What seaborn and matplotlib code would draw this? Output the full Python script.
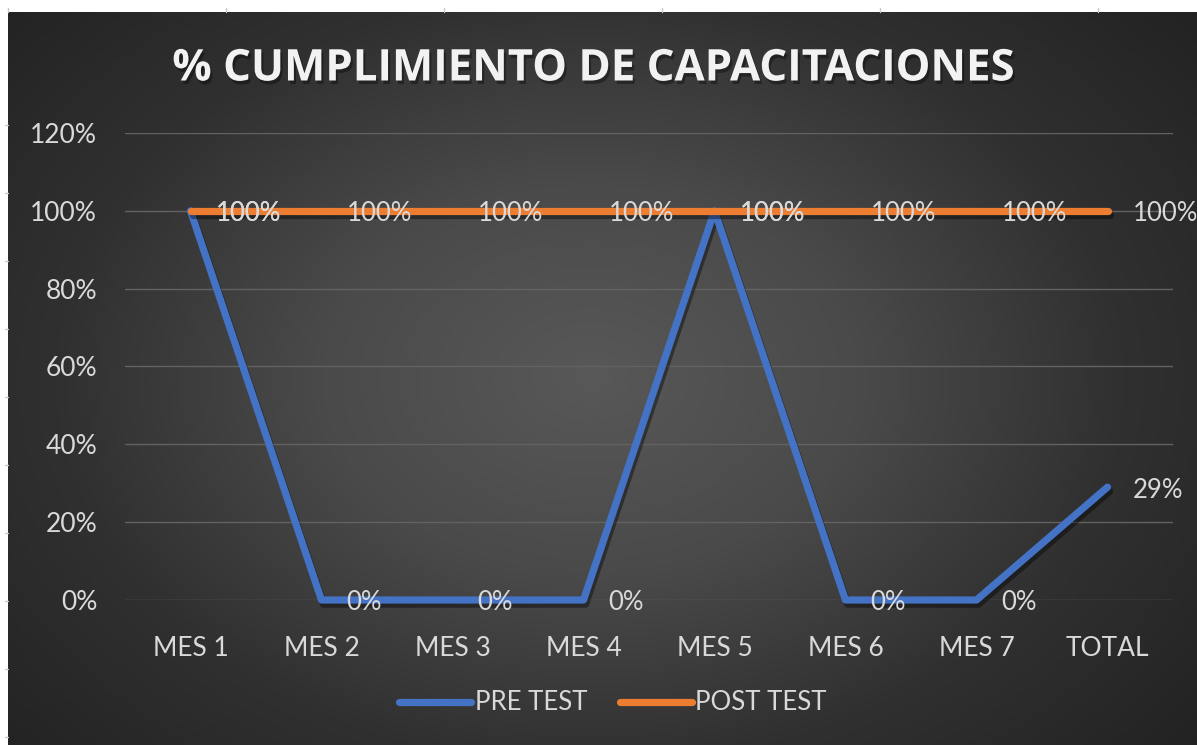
import numpy as np
import pandas as pd
import matplotlib
matplotlib.use("Agg")
import matplotlib.pyplot as plt
import matplotlib.patheffects as pe
from matplotlib.colors import LinearSegmentedColormap
from matplotlib.lines import Line2D
import seaborn as sns

# datos
meses = ["MES 1", "MES 2", "MES 3", "MES 4", "MES 5", "MES 6", "MES 7", "TOTAL"]
pre_test = [1.00, 0.00, 0.00, 0.00, 1.00, 0.00, 0.00, 0.29]
post_test = [1.00, 1.00, 1.00, 1.00, 1.00, 1.00, 1.00, 1.00]
y_ticks = [0.0, 0.2, 0.4, 0.6, 0.8, 1.0, 1.2]
series = ["PRE TEST", "POST TEST"]
colores = {"PRE TEST": "#4472C4", "POST TEST": "#ED7D31"}

df = pd.DataFrame({
    "mes": meses * 2,
    "valor": pre_test + post_test,
    "serie": [series[0]] * len(meses) + [series[1]] * len(meses),
})

sns.set_theme(style="dark")
plt.rcParams["font.family"] = ["Lato", "DejaVu Sans"]
txt_color = "#D9D9D9"

W, H = 1197, 745
fig = plt.figure(figsize=(W / 100, H / 100), dpi=100)
fig.patch.set_facecolor("white")

# fondo con degradado radial tipo Excel
bg = fig.add_axes([8 / W, 0, 1 - 8 / W, 1 - 12 / H])
yy, xx = np.mgrid[-1:1:300j, -1:1:500j]
r = np.sqrt((xx + 0.02) ** 2 + (yy * 0.85) ** 2)
cmap = LinearSegmentedColormap.from_list("bg", ["#585858", "#4a4a4a", "#303030", "#222222"])
bg.imshow(r, cmap=cmap, vmin=0, vmax=1.35, aspect="auto", interpolation="bilinear")
bg.axis("off")

# marcas de la hoja de calculo en los bordes
for xm in np.arange(8, W, 218):
    fig.add_artist(Line2D([xm / W, xm / W], [1 - 12 / H, 1 - 8 / H], color="#c8c8c8", lw=1))
for ym in np.arange(125, H, 68):
    fig.add_artist(Line2D([5 / W, 8 / W], [1 - ym / H, 1 - ym / H], color="#c8c8c8", lw=1))

ax = fig.add_axes([125 / W, (H - 600) / H, (1173 - 125) / W, (600 - 133) / H])
ax.set_facecolor("none")

sns.lineplot(data=df, x="mes", y="valor", hue="serie", palette=colores,
             hue_order=series, sort=False, lw=5.2, ax=ax, legend=False)

for line in ax.lines:
    line.set_solid_capstyle("round")
    line.set_solid_joinstyle("round")
    line.set_clip_on(False)
    line.set_path_effects([pe.SimpleLineShadow(offset=(1.5, -3), shadow_color="black", alpha=0.4),
                           pe.Normal()])

# etiquetas de datos
for vals in (pre_test, post_test):
    for i, v in enumerate(vals):
        ax.annotate(f"{v:.0%}", (i, v), xytext=(25, -3), textcoords="offset pixels",
                    ha="left", va="center", fontsize=18.5, color=txt_color, zorder=5)

ax.set_xlim(-0.5, len(meses) - 0.5)
ax.set_ylim(0, 1.2)
ax.set_yticks(y_ticks)
ax.set_yticklabels([f"{t:.0%}" for t in y_ticks])
ax.set_xlabel("")
ax.set_ylabel("")
ax.tick_params(axis="y", length=0, pad=20, labelsize=19, labelcolor=txt_color)
ax.tick_params(axis="x", length=0, pad=26, labelsize=19, labelcolor=txt_color)
ax.grid(axis="y", color="#626262", lw=1)
ax.grid(axis="x", visible=False)
for s in ax.spines.values():
    s.set_visible(False)

handles = [Line2D([], [], color=colores[s], lw=5.2, solid_capstyle="round") for s in series]
fig.legend(handles, series, loc="center", bbox_to_anchor=(613 / W, (H - 703) / H),
           ncol=2, frameon=False, fontsize=18.5, labelcolor=txt_color,
           handlelength=2.8, handletextpad=0.15, columnspacing=1.25)

fig.text(593 / W, (H - 69) / H, "% CUMPLIMIENTO DE CAPACITACIONES", ha="center", va="center",
         fontsize=31.5, fontweight="bold", color="#F2F2F2", family=["Open Sans", "DejaVu Sans"],
         path_effects=[pe.withSimplePatchShadow(offset=(1.5, -2.5), shadow_rgbFace="black", alpha=0.35)])

fig.savefig("out.png", dpi=100)
